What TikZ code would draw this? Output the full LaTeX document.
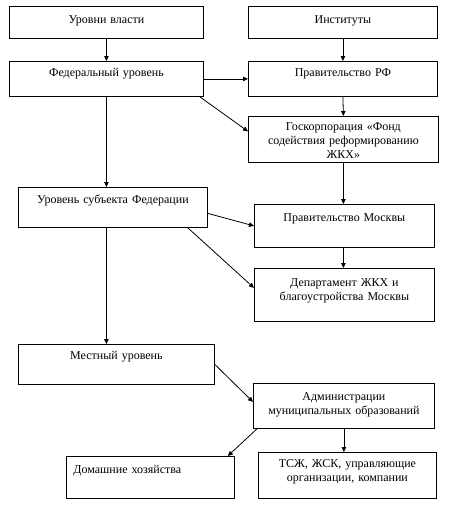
\documentclass[tikz,border=0pt]{standalone}
\usepackage{fontspec}
\setmainfont{Liberation Serif}
\newfontfamily\tnrfont{Liberation Serif}
\usepackage{tikz}
\usetikzlibrary{arrows.meta, positioning, calc}

\begin{document}
\begin{tikzpicture}[x=1pt, y=-1pt,
  blok/.style={draw, line width=0.8pt, anchor=north west, inner sep=0pt, align=center,
    font=\tnrfont\fontsize{12}{13.8}\selectfont, text height=16pt},
  strelka/.style={-{Triangle[length=5pt,width=4.5pt]}, line width=0.8pt}]
  \useasboundingbox (0,0) rectangle (453,509);
  % левая колонка: уровни
  \node[blok, text width=194pt, text height=17pt, text depth=15pt] (vlast) at (9,6) {Уровни власти};
  \node[blok, text width=194pt, text height=15pt, text depth=20pt] (fed) at (9,61) {Федеральный уровень};
  \node[blok, text width=189pt, text height=16pt, text depth=24pt] (subj) at (18,187) {Уровень субъекта Федерации};
  \node[blok, text width=196pt, text height=15pt, text depth=25pt] (local) at (18,344) {Местный уровень};
  \node[blok, text width=154pt, inner xsep=7pt, align=left, text height=17pt, text depth=25pt] (dom) at (66,456) {Домашние хозяйства};
  % правая колонка: институты
  \node[blok, text width=189pt, text height=17pt, text depth=15pt] (inst) at (248,6) {Институты};
  \node[blok, text width=189pt, text height=15pt, text depth=20pt] (pravrf) at (248,61) {Правительство РФ};
  \node[blok, text width=190pt, text height=14pt, text depth=32pt] (gosk) at (248,116) {Госкорпорация «Фонд\\ содействия реформированию\\ ЖКХ»};
  \node[blok, text width=180pt, text height=17pt, text depth=26pt] (pravmsk) at (254,204) {Правительство Москвы};
  \node[blok, text width=180pt, text height=18pt, text depth=35pt] (dep) at (254,268) {Департамент ЖКХ и\\ благоустройства Москвы};
  \node[blok, text width=181pt, text height=17pt, text depth=28pt] (admin) at (253,383) {Администрации\\ муниципальных образований};
  \node[blok, text width=178pt, text height=15pt, text depth=31pt] (tszh) at (258,452) {ТСЖ, ЖСК, управляющие\\ организации, компании};

  \draw[strelka] (vlast.south) -- (fed.north);
  \draw[strelka] (inst.south) -- (pravrf.north);
  \draw[strelka] (fed.east) -- (pravrf.west);
  \draw[strelka] (pravrf.south) -- (gosk.north);
  \draw[strelka] ([xshift=-4pt]fed.south east) -- ([yshift=8pt]gosk.west);
  \draw[strelka] (fed.south) -- (fed.south |- subj.north);
  \draw[strelka] (gosk.south) -- (gosk.south |- pravmsk.north);
  \draw[strelka] ([yshift=-6pt]subj.east) -- (pravmsk.west);
  \draw[strelka] ([xshift=-20pt]subj.south east) -- ([yshift=7pt]dep.west);
  \draw[strelka] (gosk.south |- pravmsk.south) -- (gosk.south |- dep.north);
  \draw[strelka] (fed.south |- subj.south) -- (fed.south |- local.north);
  \draw[strelka] (local.east) -- ([yshift=4pt]admin.west);
  \draw[strelka] ([xshift=4pt]admin.south west) -- ([xshift=-7pt]dom.north east);
  \draw[strelka] (admin.south) -- (admin.south |- tszh.north);
\end{tikzpicture}
\end{document}
